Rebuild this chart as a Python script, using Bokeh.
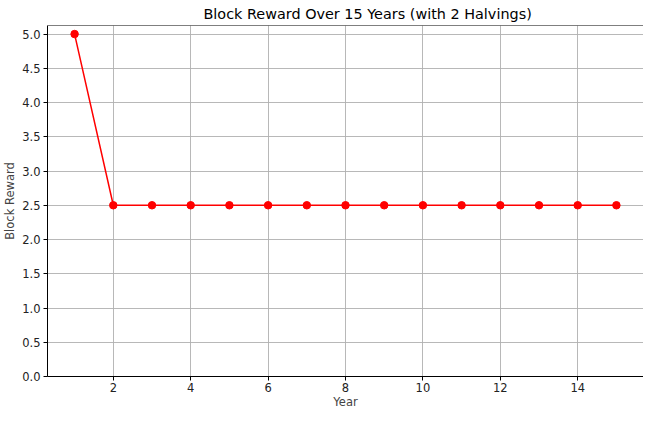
from bokeh.plotting import figure
from bokeh.models import FixedTicker, Range1d, Span, Title, NumeralTickFormatter
from bokeh.embed import file_html
from bokeh.resources import INLINE

years = list(range(1, 16))
rewards = [5.0] + [2.5] * 14
x_ticks = [2, 4, 6, 8, 10, 12, 14]
y_ticks = [0.0, 0.5, 1.0, 1.5, 2.0, 2.5, 3.0, 3.5, 4.0, 4.5, 5.0]

FONT = "DejaVu Sans"

p = figure(width=643, height=411, output_backend="svg", toolbar_location=None,
           x_range=Range1d(0.3, 15.7), y_range=Range1d(0, 5.125),
           min_border_left=39, min_border_right=0, min_border_top=21, min_border_bottom=0)

p.title = Title(text="Block Reward Over 15 Years (with 2 Halvings)", align="left",
                offset=156, text_font=FONT, text_font_size="14.4px",
                text_font_style="normal", text_color="black", standoff=7)

p.line(years, rewards, line_color="#ff0000", line_width=1.5)
p.scatter(years, rewards, size=7.5, fill_color="#ff0000", line_color="#ff0000")

p.xaxis.ticker = FixedTicker(ticks=x_ticks)
p.yaxis.ticker = FixedTicker(ticks=y_ticks)
p.yaxis.formatter = NumeralTickFormatter(format="0.0")

for ax in (p.xaxis, p.yaxis):
    ax.axis_line_color = "black"
    ax.axis_line_width = 1
    ax.major_tick_line_color = "black"
    ax.major_tick_in = 0
    ax.major_tick_out = 4
    ax.minor_tick_line_color = None
    ax.major_label_text_font = FONT
    ax.major_label_text_font_size = "11.5px"
    ax.major_label_text_color = "#222222"
    ax.axis_label_text_font = FONT
    ax.axis_label_text_font_size = "11.5px"
    ax.axis_label_text_font_style = "normal"
    ax.major_label_standoff = 3
    ax.axis_label_standoff = 2

p.xaxis.major_label_standoff = 2
p.xaxis.axis_label_standoff = 0

p.xaxis.axis_label = "Year"
p.yaxis.axis_label = "Block Reward"

p.xgrid.ticker = FixedTicker(ticks=x_ticks)
p.ygrid.ticker = FixedTicker(ticks=y_ticks)
p.grid.grid_line_color = "#b0b0b0"
p.grid.grid_line_width = 0.9

p.outline_line_color = None
p.add_layout(Span(location=5.125, dimension="width", line_color="black", line_width=1))

open("out.html", "w").write(file_html(p, INLINE))
